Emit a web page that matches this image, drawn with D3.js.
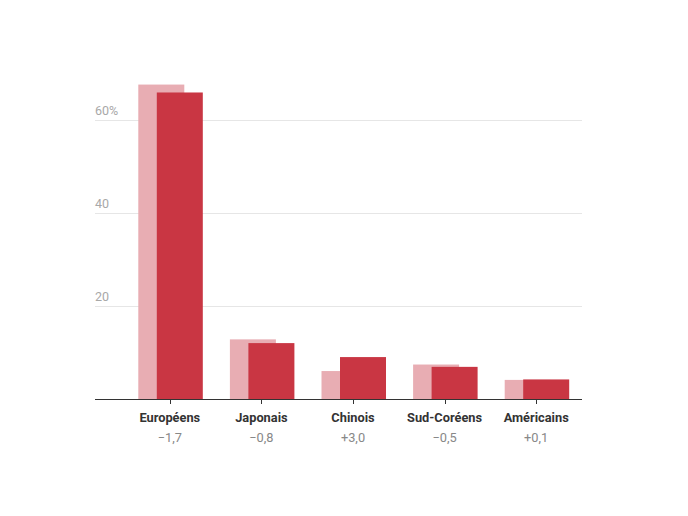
<!DOCTYPE html>
<html>
<head>
<meta charset="utf-8">
<script src="https://cdn.jsdelivr.net/npm/d3@7"></script>
<style>
    body { margin: 0; background: #fff; }
    #chart { width: 688px; height: 516px; }
    text { font-family: Roboto, "Noto Sans", sans-serif; }
</style>
</head>
<body>
<div id="chart"></div>
<script>
// categories and values (share in %)
const categories = ["Européens", "Japonais", "Chinois", "Sud-Coréens", "Américains"];
const before = [67.5, 12.8, 6.0, 7.4, 4.1];
const after = [65.8, 12.0, 9.0, 6.9, 4.2];
const deltas = ["\u22121,7", "\u22120,8", "+3,0", "\u22120,5", "+0,1"];
const yTicks = [20, 40, 60];

const data = categories.map((c, i) => ({cat: c, before: before[i], after: after[i], delta: deltas[i]}));

const margin = {top: 0, left: 95, right: 106};
const width = 688, height = 516;
const baseY = 399;

const svg = d3.select("#chart").append("svg")
    .attr("width", width)
    .attr("height", height);

const x = d3.scaleBand()
    .domain(categories)
    .range([124, 582]);

const y = d3.scaleLinear()
    .domain([0, 60])
    .range([baseY, 119.5]);

// gridlines
svg.selectAll(".grid")
    .data(yTicks)
    .enter()
    .append("line")
    .attr("x1", margin.left)
    .attr("x2", 582)
    .attr("y1", d => Math.round(y(d)) + 0.5)
    .attr("y2", d => Math.round(y(d)) + 0.5)
    .attr("stroke", "#e6e6e6")
    .attr("stroke-width", 1);

// y labels
svg.selectAll(".ylab")
    .data(yTicks)
    .enter()
    .append("text")
    .attr("x", margin.left)
    .attr("y", d => y(d) - 4.5)
    .attr("fill", "#a8a8a8")
    .attr("font-size", 12.5)
    .text(d => d === 60 ? d + "%" : d);

const barW = 46;

// previous year (light)
svg.selectAll(".before")
    .data(data)
    .enter()
    .append("rect")
    .attr("x", d => x(d.cat) + x.bandwidth() / 2 - 31.5)
    .attr("y", d => y(d.before))
    .attr("width", barW)
    .attr("height", d => baseY - y(d.before))
    .attr("fill", "#e8adb3");

// current year (dark)
svg.selectAll(".after")
    .data(data)
    .enter()
    .append("rect")
    .attr("x", d => x(d.cat) + x.bandwidth() / 2 - 13)
    .attr("y", d => y(d.after))
    .attr("width", barW)
    .attr("height", d => baseY - y(d.after))
    .attr("fill", "#c93643");

// x axis
svg.append("line")
    .attr("x1", margin.left)
    .attr("x2", 582)
    .attr("y1", baseY + 0.5)
    .attr("y2", baseY + 0.5)
    .attr("stroke", "#333")
    .attr("stroke-width", 1);

svg.selectAll(".tick")
    .data(data)
    .enter()
    .append("line")
    .attr("x1", d => Math.round(x(d.cat) + x.bandwidth() / 2) + 0.5)
    .attr("x2", d => Math.round(x(d.cat) + x.bandwidth() / 2) + 0.5)
    .attr("y1", baseY)
    .attr("y2", baseY + 5)
    .attr("stroke", "#333");

svg.selectAll(".cat")
    .data(data)
    .enter()
    .append("text")
    .attr("x", d => x(d.cat) + x.bandwidth() / 2)
    .attr("y", 422)
    .attr("text-anchor", "middle")
    .attr("font-size", 12.8)
    .attr("font-weight", "bold")
    .attr("fill", "#333")
    .text(d => d.cat);

svg.selectAll(".delta")
    .data(data)
    .enter()
    .append("text")
    .attr("x", d => x(d.cat) + x.bandwidth() / 2)
    .attr("y", 442)
    .attr("text-anchor", "middle")
    .attr("font-size", 12.8)
    .attr("fill", "#888")
    .text(d => d.delta);
</script>
</body>
</html>
